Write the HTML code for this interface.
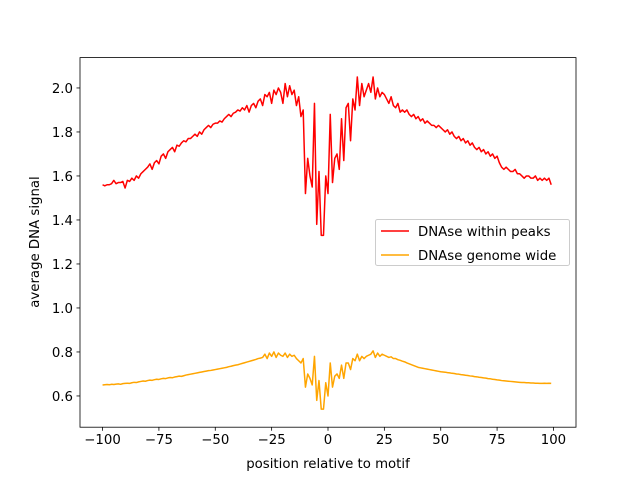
<!DOCTYPE html>
<html><head><meta charset="utf-8"><style>
body{margin:0;background:#fff;}
svg{display:block;font-family:"DejaVu Sans","Liberation Sans",sans-serif;}
</style></head><body>
<svg id="chart" width="640" height="480" xmlns="http://www.w3.org/2000/svg">
<rect width="640" height="480" fill="#fff"/>
<g id="plot"></g>
</svg>
<script>
const xTicks=[-100,-75,-50,-25,0,25,50,75,100];
const yTicks=[0.6,0.8,1.0,1.2,1.4,1.6,1.8,2.0];
const yTickLabels=["0.6","0.8","1.0","1.2","1.4","1.6","1.8","2.0"];
const positionsStart=-100;
const peaksValues=[1.56,1.555,1.56,1.56,1.565,1.58,1.565,1.57,1.57,1.575,
1.545,1.58,1.575,1.59,1.58,1.60,1.59,1.61,1.62,1.63,
1.64,1.655,1.63,1.66,1.67,1.655,1.69,1.70,1.68,1.71,
1.72,1.73,1.71,1.74,1.735,1.75,1.76,1.755,1.77,1.77,
1.78,1.79,1.78,1.80,1.79,1.81,1.82,1.83,1.82,1.835,
1.84,1.84,1.85,1.845,1.86,1.87,1.88,1.87,1.885,1.89,
1.90,1.895,1.91,1.90,1.92,1.89,1.92,1.93,1.91,1.94,
1.95,1.92,1.97,1.96,1.98,1.93,1.99,1.97,2.00,1.98,
1.93,2.02,1.96,2.01,1.97,1.99,1.92,1.96,1.87,1.90,
1.52,1.68,1.60,1.55,1.93,1.38,1.62,1.33,1.33,1.60,
1.52,1.88,1.57,1.68,1.70,1.63,1.86,1.67,1.91,1.93,
1.76,1.95,1.90,2.05,1.92,2.02,1.96,1.99,2.02,1.98,
2.05,1.95,2.00,1.96,1.98,1.97,1.95,1.93,1.96,1.92,
1.91,1.93,1.89,1.90,1.89,1.90,1.88,1.87,1.88,1.86,
1.87,1.85,1.86,1.84,1.85,1.84,1.83,1.83,1.82,1.83,
1.82,1.81,1.80,1.81,1.79,1.80,1.78,1.77,1.78,1.76,
1.77,1.75,1.76,1.74,1.75,1.73,1.72,1.73,1.71,1.72,
1.70,1.71,1.69,1.70,1.68,1.69,1.66,1.64,1.63,1.64,
1.63,1.62,1.62,1.63,1.61,1.61,1.60,1.59,1.60,1.60,
1.59,1.59,1.60,1.58,1.59,1.58,1.59,1.58,1.59,1.56];
const genomeValues=[.650,.651,.652,.651,.653,.652,.654,.655,.653,.656,
.657,.658,.657,.660,.662,.661,.664,.666,.668,.667,
.670,.672,.671,.674,.676,.675,.678,.680,.679,.682,
.684,.683,.686,.688,.690,.689,.692,.695,.697,.699,
.701,.703,.705,.707,.709,.711,.713,.715,.716,.718,
.720,.722,.724,.726,.728,.730,.733,.735,.738,.740,
.742,.745,.748,.751,.754,.757,.760,.763,.766,.770,
.772,.775,.790,.770,.795,.780,.800,.775,.795,.785,
.780,.795,.775,.790,.780,.785,.770,.760,.750,.770,
.640,.700,.680,.650,.780,.580,.670,.540,.540,.660,
.600,.750,.640,.690,.700,.680,.740,.680,.750,.750,
.720,.770,.760,.790,.760,.780,.770,.780,.785,.790,
.805,.775,.795,.780,.790,.785,.780,.775,.778,.770,
.770,.765,.762,.758,.755,.750,.746,.742,.738,.734,
.730,.728,.726,.724,.722,.720,.718,.716,.714,.712,
.710,.709,.708,.706,.705,.703,.702,.700,.699,.697,
.696,.694,.693,.691,.690,.688,.687,.685,.684,.682,
.681,.679,.678,.676,.675,.673,.672,.670,.669,.668,
.667,.666,.665,.664,.663,.662,.661,.661,.660,.660,
.659,.659,.658,.658,.657,.657,.658,.657,.658,.657];

const L=80,R=576,T=57.6,B=427.2;
const xMin=-110,xMax=110,yMin=0.458,yMax=2.138;
function sx(v){return L+(v-xMin)/(xMax-xMin)*(R-L);}
function sy(v){return B-(v-yMin)/(yMax-yMin)*(B-T);}
const NS="http://www.w3.org/2000/svg";
const g=document.getElementById('plot');
function mk(tag,attrs,parent){const e=document.createElementNS(NS,tag);for(const k in attrs)e.setAttribute(k,attrs[k]);(parent||g).appendChild(e);return e;}

function series(vals,color,name){
  const pts=vals.map((v,i)=>sx(positionsStart+i).toFixed(2)+","+sy(v).toFixed(2)).join(" ");
  const p=mk('polyline',{points:pts,fill:'none',stroke:color,'stroke-width':1.5,'stroke-linejoin':'round'});
  
  
}
series(genomeValues,'#ffa500','genome-wide-line');
series(peaksValues,'#ff0000','within-peaks-line');

const frame=mk('rect',{x:L,y:T,width:R-L,height:B-T,fill:'none',stroke:'#000','stroke-width':0.8});



xTicks.forEach(t=>{
  const x=sx(t);
  mk('line',{x1:x,x2:x,y1:B,y2:B+3.5,stroke:'#000','stroke-width':0.8});
  const tx=mk('text',{x:x,y:B+17,'text-anchor':'middle','font-size':'13.3px'});
  tx.textContent=String(t).replace('-','\u2212');
  
  
});
yTicks.forEach((t,i)=>{
  const y=sy(t);
  mk('line',{x1:L-3.5,x2:L,y1:y,y2:y,stroke:'#000','stroke-width':0.8});
  const tx=mk('text',{x:L-7,y:y+5,'text-anchor':'end','font-size':'13.3px'});
  tx.textContent=yTickLabels[i];
  
  
});
const xl=mk('text',{x:(L+R)/2,y:468,'text-anchor':'middle','font-size':'13.3px'});
xl.textContent='position relative to motif';


const yl=mk('text',{x:0,y:0,'text-anchor':'middle','font-size':'13.3px',transform:'translate(39,242) rotate(-90)'});
yl.textContent='average DNA signal';



const lg=mk('g',{});


mk('rect',{x:375.5,y:219.5,width:194,height:46,rx:2,fill:'#fff','fill-opacity':0.8,stroke:'#ccc','stroke-width':1},lg);
[['DNAse within peaks','#ff0000',231],['DNAse genome wide','#ffa500',255]].forEach(([lab,c,y])=>{
  const e=mk('g',{},lg);
  
  
  mk('line',{x1:381,x2:409,y1:y,y2:y,stroke:c,'stroke-width':1.5},e);
  const t=mk('text',{x:418,y:y+5,'font-size':'13.3px'},e);
  t.textContent=lab;
});
</script>
</body></html>
